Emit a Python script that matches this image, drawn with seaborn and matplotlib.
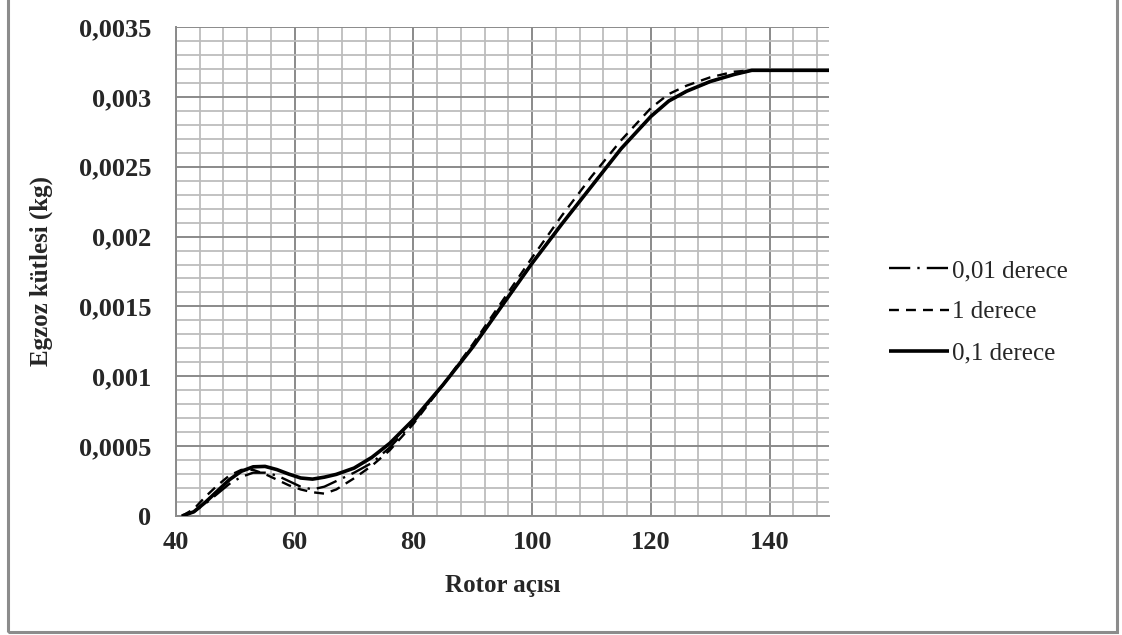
import numpy as np
import pandas as pd
import matplotlib
matplotlib.use("Agg")
import matplotlib.pyplot as plt
from matplotlib.patches import Rectangle
from matplotlib.ticker import MultipleLocator, FixedLocator, FixedFormatter
import seaborn as sns

# Rotor angle samples (degrees)
rotor_angle = [41, 43, 45, 47, 49, 51, 53, 55, 57, 59, 61, 63, 65, 67, 70, 73, 76,
               80, 85, 90, 95, 100, 105, 110, 115, 120, 123, 126, 130, 134, 137,
               140, 145, 150]

# Exhaust mass (kg) for each time step
mass_001 = [0, 0.00003, 0.00009, 0.00016, 0.00023, 0.00028, 0.00031, 0.00031,
            0.00029, 0.00025, 0.00021, 0.00019, 0.00021, 0.00025, 0.00031,
            0.00038, 0.00049, 0.00067, 0.00094, 0.00121, 0.00151, 0.00181,
            0.00209, 0.00236, 0.00263, 0.00286, 0.00297, 0.00304, 0.00311,
            0.00316, 0.00319, 0.00319, 0.00319, 0.00319]
mass_1 = [0, 0.00005, 0.00014, 0.00022, 0.00029, 0.00033, 0.00033, 0.00030,
          0.00026, 0.00022, 0.00019, 0.00017, 0.00016, 0.00019, 0.00027,
          0.00036, 0.00047, 0.00066, 0.00094, 0.00123, 0.00154, 0.00185,
          0.00215, 0.00243, 0.00269, 0.00292, 0.00302, 0.00308, 0.00314,
          0.00318, 0.00319, 0.00319, 0.00319, 0.00319]
mass_01 = [0, 0.00003, 0.00010, 0.00018, 0.00026, 0.00032, 0.000352, 0.000355,
           0.000332, 0.00030, 0.000272, 0.000264, 0.000278, 0.000298, 0.000343,
           0.00042, 0.00052, 0.00069, 0.00094, 0.00121, 0.00151, 0.00181,
           0.00209, 0.00236, 0.00263, 0.00286, 0.00297, 0.00304, 0.00311,
           0.00316, 0.00319, 0.00319, 0.00319, 0.00319]

series_labels = ["0,01 derece", "1 derece", "0,1 derece"]
y_tick_values = [0, 0.0005, 0.001, 0.0015, 0.002, 0.0025, 0.003, 0.0035]
y_tick_labels = ["0", "0,0005", "0,001", "0,0015", "0,002", "0,0025", "0,003", "0,0035"]
x_tick_values = [40, 60, 80, 100, 120, 140]
x_tick_labels = ["40", "60", "80", "100", "120", "140"]

sns.set_style("white")
plt.rcParams["font.family"] = ["Liberation Serif", "DejaVu Serif"]

fig = plt.figure(figsize=(11.22, 6.35), dpi=100)
ax = fig.add_axes([176 / 1122, 1 - 516 / 635, (829 - 176) / 1122, (516 - 27) / 635])

frames = []
for lab, vals in zip(series_labels, [mass_001, mass_1, mass_01]):
    frames.append(pd.DataFrame({"angle": rotor_angle, "mass": vals, "step": lab}))
df = pd.concat(frames, ignore_index=True)

styles = {
    "0,01 derece": dict(lw=1.7, dashes=(9, 3, 1, 3)),
    "1 derece": dict(lw=1.7, dashes=(4.2, 3.0)),
    "0,1 derece": dict(lw=2.6, dashes=None),
}
handles = []
for lab in series_labels:
    sub = df[df["step"] == lab]
    st = styles[lab]
    sns.lineplot(data=sub, x="angle", y="mass", ax=ax, color="black",
                 linewidth=st["lw"], label=lab, legend=False, zorder=3)
    line = ax.lines[-1]
    if st["dashes"] is not None:
        line.set_dashes(st["dashes"])
    line.set_solid_capstyle("butt")
    handles.append(line)

ax.set_xlim(40, 150)
ax.set_ylim(0, 0.0035)

ax.xaxis.set_major_locator(FixedLocator(x_tick_values))
ax.xaxis.set_major_formatter(FixedFormatter(x_tick_labels))
ax.xaxis.set_minor_locator(MultipleLocator(4))
ax.yaxis.set_major_locator(FixedLocator(y_tick_values))
ax.yaxis.set_major_formatter(FixedFormatter(y_tick_labels))
ax.yaxis.set_minor_locator(MultipleLocator(0.0001))

ax.grid(which="minor", color="#bdbdbd", linewidth=1.3, zorder=0)
ax.grid(which="major", color="#8a8a8a", linewidth=1.4, zorder=1)
ax.set_axisbelow(True)

for side in ["top", "right"]:
    ax.spines[side].set_visible(False)
for side in ["left", "bottom"]:
    ax.spines[side].set_color("#8a8a8a")
    ax.spines[side].set_linewidth(1.4)

ax.tick_params(axis="both", which="major", direction="out", length=6, width=1.3,
               color="#8a8a8a", labelsize=19)
ax.tick_params(axis="y", which="major", pad=12)
ax.tick_params(axis="x", which="major", pad=5)
ax.tick_params(axis="both", which="minor", length=0)
for t in ax.get_xticklabels() + ax.get_yticklabels():
    t.set_fontweight("bold")

ax.set_xlabel("Rotor açısı", fontsize=18, fontweight="bold", labelpad=14)
ax.set_ylabel("Egzoz kütlesi (kg)", fontsize=18, fontweight="bold", labelpad=18)

fig.legend(handles=handles, labels=series_labels, loc="center left",
           bbox_to_anchor=(889 / 1122, 1 - 312 / 635), frameon=False,
           fontsize=18, handlelength=2.4, handletextpad=0.1, labelspacing=0.75,
           borderaxespad=0, borderpad=0)

fig.patches.append(Rectangle((8 / 1122, 1 - 632 / 635), (1117 - 8) / 1122, 1.1,
                             transform=fig.transFigure, fill=False,
                             edgecolor="#8c8c8c", linewidth=2.2))

fig.savefig("out.png", dpi=100)
